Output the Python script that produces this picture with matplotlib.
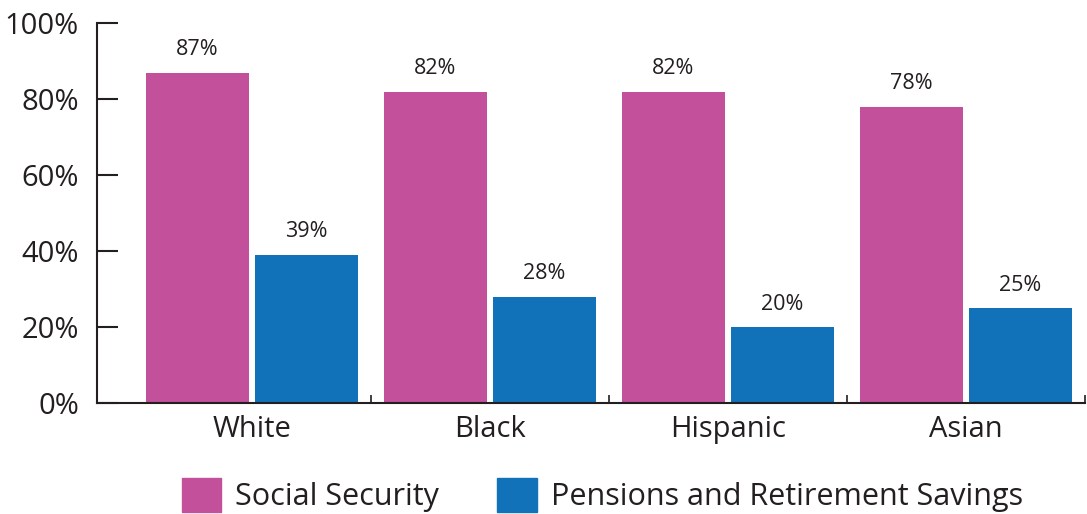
import numpy as np
import matplotlib.pyplot as plt
from matplotlib.patches import Patch

# values
groups = ['White', 'Black', 'Hispanic', 'Asian']
socialSecurity = [87, 82, 82, 78]
pensions = [39, 28, 20, 25]
yTicks = [0, 20, 40, 60, 80, 100]

pink = '#C2509A'
blue = '#1172BA'
ink = '#231F20'

plt.rcParams['font.family'] = ['Open Sans', 'DejaVu Sans']

fig = plt.figure(figsize=(10.87, 5.14), dpi=100)
ax = fig.add_axes([0.0892, 0.216, 0.909, 0.739])

x = np.arange(len(groups))
w = 0.433
off = 0.229
b1 = ax.bar(x - off, socialSecurity, w, color=pink)
b2 = ax.bar(x + off, pensions, w, color=blue)

# percentage labels above each bar
for bars, vals in ((b1, socialSecurity), (b2, pensions)):
    for r, v in zip(bars, vals):
        ax.annotate(f'{v}%', (r.get_x() + r.get_width() / 2, v),
                    xytext=(0, 9), textcoords='offset points',
                    ha='center', va='bottom', fontsize=15.5, color=ink)

ax.set_xlim(-0.651, 3.5)
ax.set_ylim(0, 100)

for s in ['top', 'right']:
    ax.spines[s].set_visible(False)
ax.spines['left'].set_color(ink)
ax.spines['bottom'].set_color(ink)
ax.spines['left'].set_linewidth(1.5)
ax.spines['bottom'].set_linewidth(1.5)

ax.set_yticks(yTicks)
ax.set_yticklabels([f'{t}%' for t in yTicks], fontsize=21, color=ink)
ax.tick_params(axis='y', direction='in', length=15, width=1.5, color=ink, pad=13)

# group separators as small upward ticks, labels centred under groups
ax.set_xticks(x + 0.5)
ax.set_xticklabels([])
ax.set_xticks(x, minor=True)
ax.set_xticklabels(groups, minor=True, fontsize=21, color=ink)
ax.tick_params(axis='x', which='major', direction='in', length=6, width=1.2, color=ink)
ax.tick_params(axis='x', which='minor', length=0, pad=9)

handles = [Patch(color=pink, label='Social Security'),
           Patch(color=blue, label='Pensions and Retirement Savings')]
leg = fig.legend(handles=handles, loc='lower center', bbox_to_anchor=(0.554, -0.05),
                 ncol=2, frameon=False, fontsize=22, handlelength=1.3,
                 handleheight=1.3, handletextpad=0.45, columnspacing=1.9)
for t in leg.get_texts():
    t.set_color(ink)

fig.savefig('out.png', dpi=100)
